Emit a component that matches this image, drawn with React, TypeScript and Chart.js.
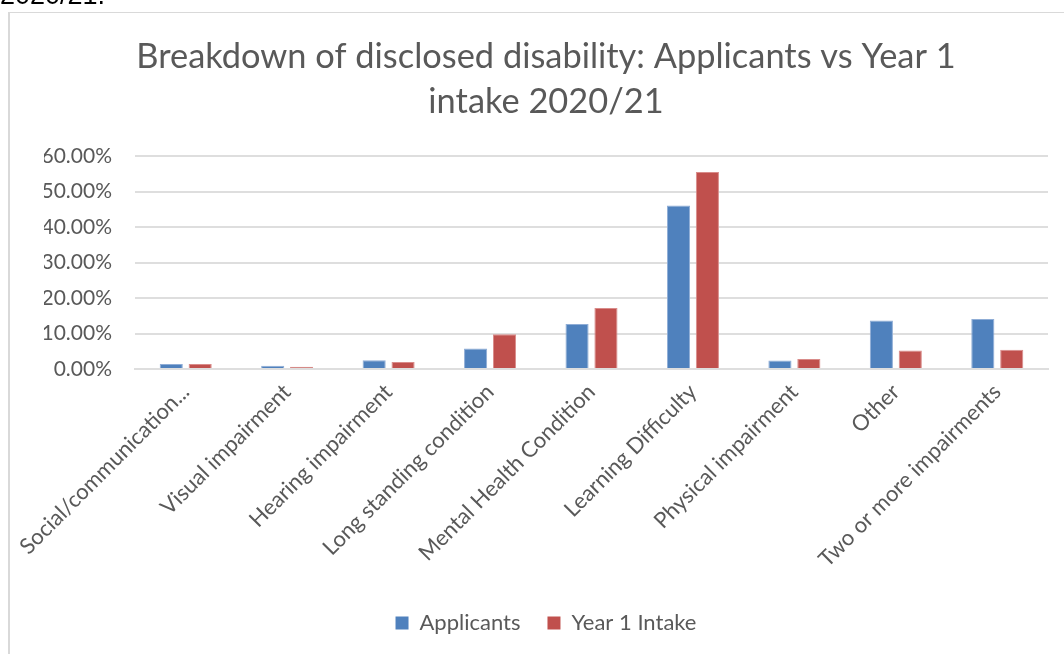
import React, { useEffect, useRef } from "react";
import { Chart, registerables } from "chart.js";

Chart.register(...registerables);

const categories = [
  "Social/communication...",
  "Visual impairment",
  "Hearing impairment",
  "Long standing condition",
  "Mental Health Condition",
  "Learning Difficulty",
  "Physical impairment",
  "Other",
  "Two or more impairments",
];
const applicants = [1.4, 0.9, 2.5, 5.8, 12.7, 46.1, 2.4, 13.7, 14.1];
const year1Intake = [1.4, 0.6, 2.0, 9.8, 17.2, 55.5, 2.8, 5.2, 5.4];
const titleLines = ["Breakdown of disclosed disability: Applicants vs Year 1", "intake 2020/21"];

const FONT = "Lato, 'Open Sans', sans-serif";
const GREY = "#595959";
const GRID = "#dedede";

export default function App() {
  const ref = useRef<HTMLCanvasElement | null>(null);
  useEffect(() => {
    if (!ref.current) return;
    const chart = new Chart(ref.current, {
      type: "bar",
      data: {
        labels: categories,
        datasets: [
          {
            label: "Applicants",
            data: applicants,
            backgroundColor: "#4F81BD",
            borderColor: "#8fadd6",
            borderWidth: 1,
            categoryPercentage: 0.57,
            barPercentage: 0.8,
          },
          {
            label: "Year 1 Intake",
            data: year1Intake,
            backgroundColor: "#C0504D",
            borderColor: "#d98c8a",
            borderWidth: 1,
            categoryPercentage: 0.57,
            barPercentage: 0.8,
          },
        ],
      },
      options: {
        animation: false,
        responsive: false,
        maintainAspectRatio: false,
        layout: { padding: { left: 34, right: 16, top: 0, bottom: 10 } },
        plugins: {
          title: {
            display: true,
            text: titleLines,
            color: GREY,
            font: { family: FONT, size: 34.4, weight: "normal", lineHeight: 1.31 },
            padding: { top: 21, bottom: 32 },
          },
          legend: {
            position: "bottom",
            labels: {
              color: GREY,
              font: { family: FONT, size: 22 },
              boxWidth: 13,
              boxHeight: 13,
              padding: 27,
              generateLabels: (c: any) =>
                Chart.defaults.plugins.legend.labels.generateLabels(c).map((l: any) => ({
                  ...l,
                  lineWidth: 0,
                })),
            },
          },
          tooltip: { enabled: false },
        },
        scales: {
          x: {
            grid: { display: false, drawTicks: false },
            border: { display: true, color: GRID, width: 2 },
            ticks: {
              color: GREY,
              font: { family: FONT, size: 22 },
              maxRotation: 45,
              minRotation: 45,
              autoSkip: false,
              padding: 10,
            },
            afterFit: (s: any) => {
              s.height = 216;
              s.paddingLeft = 0;
              s.paddingRight = 0;
            },
          },
          y: {
            min: 0,
            max: 60,
            grid: { color: GRID, lineWidth: 2, drawTicks: false },
            border: { display: false },
            ticks: {
              stepSize: 10,
              color: GREY,
              font: { family: FONT, size: 21 },
              padding: 23,
              callback: (v: any) => Number(v).toFixed(2) + "%",
            },
            afterFit: (s: any) => { s.width = 91; },
          },
        },
      },
    });
    return () => chart.destroy();
  }, []);

  return (
    <div>
      <div
        style={{
          position: "fixed",
          left: 0,
          top: -18,
          fontFamily: "'Liberation Sans', Arial, sans-serif",
          fontSize: 27,
          color: "#000",
          lineHeight: "27px",
        }}
      >
        2020/21.
      </div>
      <div
        style={{
          position: "fixed",
          left: 8,
          top: 12,
          width: 1056,
          height: 642,
          borderLeft: "2px solid #d9d9d9",
          borderTop: "1px solid #d9d9d9",
          background: "#fff",
        }}
      >
        <canvas ref={ref} width={1054} height={641} style={{ display: "block" }} />
      </div>
    </div>
  );
}
